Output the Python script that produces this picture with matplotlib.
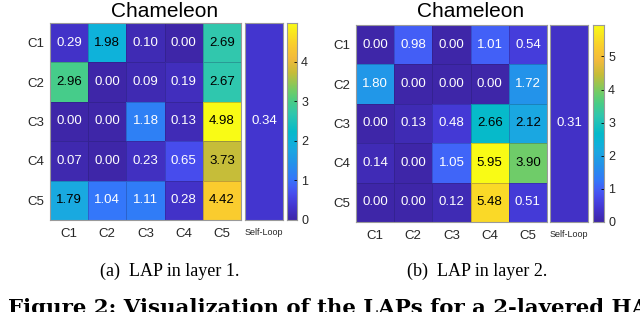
import numpy as np
import matplotlib
matplotlib.use("Agg")
import matplotlib.pyplot as plt
from matplotlib.colors import LinearSegmentedColormap

# values
rows = ["C1", "C2", "C3", "C4", "C5"]
cols = ["C1", "C2", "C3", "C4", "C5"]
lap1 = [[0.29, 1.98, 0.10, 0.00, 2.69],
        [2.96, 0.00, 0.09, 0.19, 2.67],
        [0.00, 0.00, 1.18, 0.13, 4.98],
        [0.07, 0.00, 0.23, 0.65, 3.73],
        [1.79, 1.04, 1.11, 0.28, 4.42]]
lap2 = [[0.00, 0.98, 0.00, 1.01, 0.54],
        [1.80, 0.00, 0.00, 0.00, 1.72],
        [0.00, 0.13, 0.48, 2.66, 2.12],
        [0.14, 0.00, 1.05, 5.95, 3.90],
        [0.00, 0.00, 0.12, 5.48, 0.51]]
self_loop = [0.34, 0.31]
cbar_ticks = [[0, 1, 2, 3, 4], [0, 1, 2, 3, 4, 5]]
titles = ["Chameleon", "Chameleon"]
captions = ["(a)  LAP in layer 1.", "(b)  LAP in layer 2."]
fig_caption = "Figure 2: Visualization of the LAPs for a 2-layered HA"

# rough parula
anchors = [
    (0.00, (0.2422, 0.1504, 0.6603)),
    (0.07, (0.2650, 0.2100, 0.8200)),
    (0.13, (0.2800, 0.3000, 0.9300)),
    (0.17, (0.2600, 0.3800, 0.9700)),
    (0.21, (0.2000, 0.4700, 0.9800)),
    (0.30, (0.1300, 0.5900, 0.9100)),
    (0.36, (0.1000, 0.6600, 0.8800)),
    (0.40, (0.0500, 0.7000, 0.8500)),
    (0.45, (0.0200, 0.7300, 0.7900)),
    (0.54, (0.1900, 0.7800, 0.6800)),
    (0.60, (0.2800, 0.8000, 0.5300)),
    (0.66, (0.4500, 0.8000, 0.4000)),
    (0.75, (0.7800, 0.7400, 0.2200)),
    (0.82, (0.9500, 0.7300, 0.2400)),
    (0.89, (0.9800, 0.8000, 0.1800)),
    (1.00, (0.9769, 0.9839, 0.0805)),
]
parula = LinearSegmentedColormap.from_list("parula", anchors)

W, H = 640, 312
fig = plt.figure(figsize=(W / 100, H / 100), dpi=100)
plt.rcParams['font.family'] = ['Liberation Sans', 'DejaVu Sans']


def rect(x0, y0, x1, y1):
    return [x0 / W, 1 - y1 / H, (x1 - x0) / W, (y1 - y0) / H]


frame = "#9a9a9a"
tick_c = "#262626"


def panel(data, sl, ticks, title, x_hm, x_sl, x_cb, y0, y1, x_title):
    data = np.array(data)
    vmax = data.max()
    ax = fig.add_axes(rect(x_hm[0], y0, x_hm[1], y1))
    ax.pcolormesh(data, cmap=parula, vmin=0, vmax=vmax,
                  edgecolors=(0.1, 0.1, 0.3, 0.25), linewidth=0.5)
    ax.set_xlim(0, 5)
    ax.set_ylim(5, 0)
    for i in range(5):
        for j in range(5):
            v = data[i, j]
            ax.text(j + 0.5, i + 0.5, f"{v:.2f}", ha="center", va="center",
                    fontsize=9.5, color="black" if v / vmax > 0.33 else "white")
    ax.set_xticks(np.arange(5) + 0.5)
    ax.set_xticklabels(cols, fontsize=9.5, color=tick_c)
    ax.set_yticks(np.arange(5) + 0.5)
    ax.set_yticklabels(rows, fontsize=9.5, color=tick_c)
    ax.tick_params(axis="x", length=0, pad=6)
    ax.tick_params(axis="y", length=0, pad=4)
    for s in ax.spines.values():
        s.set_color(frame)
        s.set_linewidth(0.8)
    fig.text(x_title / W, 1 - 17 / H, title, ha="center", va="baseline",
             fontsize=15)

    ax2 = fig.add_axes(rect(x_sl[0], y0, x_sl[1], y1))
    ax2.pcolormesh([[sl]], cmap=parula, vmin=0, vmax=vmax)
    ax2.text(0.5, 0.5, f"{sl:.2f}", ha="center", va="center",
             fontsize=9.5, color="white", transform=ax2.transAxes)
    ax2.set_yticks([])
    ax2.set_xticks([0.5])
    ax2.set_xticklabels(["Self-Loop"], fontsize=6.5, color=tick_c)
    ax2.tick_params(length=0, pad=6)
    for s in ax2.spines.values():
        s.set_color(frame)
        s.set_linewidth(0.8)

    cax = fig.add_axes(rect(x_cb[0], y0, x_cb[1], y1))
    grad = np.linspace(0, vmax, 256).reshape(-1, 1)
    cax.imshow(grad, cmap=parula, vmin=0, vmax=vmax, aspect="auto",
               origin="lower", extent=[0, 1, 0, vmax])
    cax.set_xticks([])
    cax.yaxis.tick_right()
    cax.set_yticks(ticks)
    cax.set_yticklabels([str(t) for t in ticks], fontsize=9, color=tick_c)
    cax.tick_params(axis="y", direction="in", length=2, pad=3, width=0.6)
    for s in cax.spines.values():
        s.set_color(frame)
        s.set_linewidth(0.8)


panel(lap1, self_loop[0], cbar_ticks[0], titles[0],
      (50, 241), (245, 283), (287, 297), 23, 220, 165)
panel(lap2, self_loop[1], cbar_ticks[1], titles[1],
      (356, 547), (550, 588), (593, 604), 25, 222, 471)

serif = ['Liberation Serif', 'DejaVu Serif']
fig.text(170 / W, 1 - 276 / H, captions[0], ha="center", va="baseline",
         fontsize=13, family=serif)
fig.text(477 / W, 1 - 276 / H, captions[1], ha="center", va="baseline",
         fontsize=13, family=serif)

# figure caption, runs off the right and bottom edge like the source crop
cap = fig.text(8 / W, 1 - 314 / H, fig_caption, ha="left", va="baseline",
               fontsize=15, family=['DejaVu Serif'], fontweight="bold")
fig.canvas.draw()
w = cap.get_window_extent().width
cap.set_fontsize(15 * 642 / w)

fig.savefig("out.png", dpi=100)
